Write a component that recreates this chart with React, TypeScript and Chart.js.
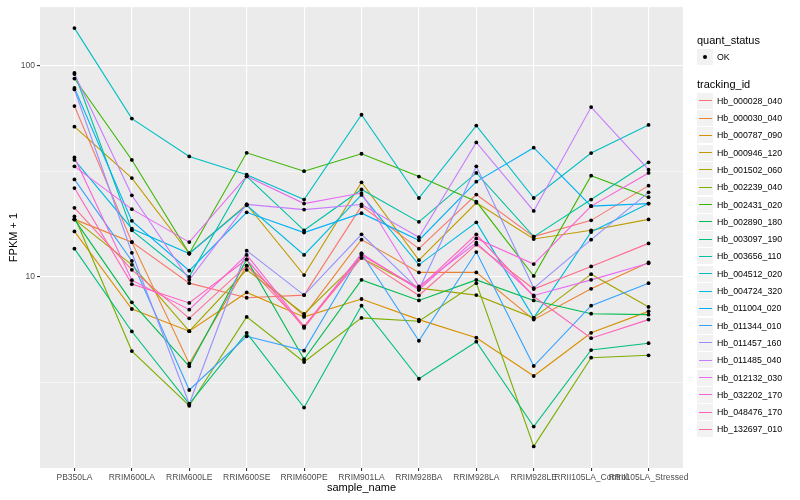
import React, { useEffect, useRef } from "react";
import { Chart, registerables } from "chart.js";
Chart.register(...registerables);

const categories = [
  "PB350LA", "RRIM600LA", "RRIM600LE", "RRIM600SE", "RRIM600PE", "RRIM901LA",
  "RRIM928BA", "RRIM928LA", "RRIM928LE", "RRII105LA_Control", "RRII105LA_Stressed",
];

const trackingIds = [
  "Hb_000028_040", "Hb_000030_040", "Hb_000787_090", "Hb_000946_120", "Hb_001502_060",
  "Hb_002239_040", "Hb_002431_020", "Hb_002890_180", "Hb_003097_190", "Hb_003656_110",
  "Hb_004512_020", "Hb_004724_320", "Hb_011004_020", "Hb_011344_010", "Hb_011457_160",
  "Hb_011485_040", "Hb_012132_030", "Hb_032202_170", "Hb_048476_170", "Hb_132697_010",
];

const seriesColors = [
  "#F8766D", "#EA8331", "#D89000", "#C09B00", "#A3A500", "#7CAE00", "#39B600", "#00BB4E",
  "#00BF7D", "#00C1A3", "#00BFC4", "#00BAE0", "#00B0F6", "#35A2FF", "#9590FF", "#C77CFF",
  "#E76BF3", "#FA62DB", "#FF62BC", "#FF6C91",
];

const hb000028_040 = [64.2, 14.6, 9.34, 7.97, 8.2, 21.6, 13.6, 24.5, 15.5, 18.5, 27.0];
const hb000030_040 = [18.7, 14.6, 3.89, 11.3, 6.56, 15.0, 10.5, 10.5, 6.28, 8.78, 11.7];
const hb000787_090 = [16.4, 7.05, 5.54, 8.44, 6.47, 7.86, 6.28, 5.16, 3.4, 5.44, 6.87];
const hb000946_120 = [51.3, 29.3, 12.9, 22.0, 10.2, 28.0, 12.0, 22.4, 15.1, 16.6, 18.7];
const hb001502_060 = [18.7, 11.4, 5.54, 10.8, 6.68, 12.3, 8.85, 8.2, 6.4, 10.3, 7.21];
const hb002239_040 = [19.3, 4.46, 2.46, 6.47, 3.96, 6.4, 6.17, 9.34, 1.58, 4.15, 4.26];
const hb002431_020 = [86.6, 35.7, 12.9, 38.6, 31.6, 38.2, 29.8, 22.7, 10.1, 30.1, 23.8];
const hb002890_180 = [18.7, 7.58, 3.78, 12.1, 4.08, 9.68, 7.74, 9.68, 7.74, 6.7, 6.63];
const hb003097_190 = [13.6, 5.52, 2.51, 5.44, 2.41, 7.31, 3.3, 4.94, 1.96, 4.51, 4.86];
const hb003656_110 = [92.0, 16.6, 10.0, 29.9, 16.6, 25.9, 18.2, 31.0, 15.5, 23.2, 34.8];
const hb004512_020 = [150, 56.0, 37.1, 30.4, 23.2, 58.4, 23.6, 51.9, 23.6, 38.5, 52.3];
const hb004724_320 = [35.7, 16.9, 12.9, 21.8, 12.7, 24.4, 11.4, 18.1, 6.4, 16.3, 22.2];
const hb011004_020 = [78.2, 18.4, 10.7, 20.2, 16.2, 20.0, 14.9, 28.2, 40.8, 21.6, 22.2];
const hb011344_010 = [28.9, 11.9, 2.92, 5.24, 4.48, 12.9, 4.99, 13.1, 3.79, 7.31, 9.34];
const hb011457_160 = [76.9, 13.0, 2.51, 13.3, 8.2, 15.9, 8.69, 33.3, 8.85, 15.0, 25.1];
const hb011485_040 = [91.0, 24.3, 9.68, 22.0, 20.8, 22.0, 15.4, 43.2, 20.5, 63.5, 32.1];
const hb012132_030 = [33.3, 20.9, 14.6, 29.9, 22.2, 24.9, 9.01, 14.5, 8.17, 9.68, 11.6];
const hb032202_170 = [36.7, 9.65, 7.0, 12.7, 5.82, 12.9, 8.69, 15.2, 11.5, 21.6, 31.0];
const hb048476_170 = [26.3, 9.24, 7.53, 12.1, 5.74, 12.7, 8.85, 15.9, 8.08, 5.13, 6.28];
const hb132697_010 = [21.2, 10.8, 6.37, 11.3, 5.84, 12.3, 8.17, 14.2, 8.76, 11.2, 14.4];

const seriesValues = [
  hb000028_040, hb000030_040, hb000787_090, hb000946_120, hb001502_060,
  hb002239_040, hb002431_020, hb002890_180, hb003097_190, hb003656_110,
  hb004512_020, hb004724_320, hb011004_020, hb011344_010, hb011457_160,
  hb011485_040, hb012132_030, hb032202_170, hb048476_170, hb132697_010,
];

const yMajorTicks = [10, 100];
const yMinorTicks = [3.1623, 31.623];
const quantStatus = ["OK"];

const FONT = "'Liberation Sans', Arial, Helvetica, sans-serif";

export default function App() {
  const canvasRef = useRef<HTMLCanvasElement | null>(null);

  useEffect(() => {
    document.body.style.margin = "0";
    const canvas = canvasRef.current;
    if (!canvas) return;

    const panelBg = {
      id: "panelBg",
      beforeDraw(chart: any) {
        const { ctx, chartArea } = chart;
        ctx.save();
        ctx.fillStyle = "#EBEBEB";
        ctx.fillRect(chartArea.left, chartArea.top, chartArea.right - chartArea.left, chartArea.bottom - chartArea.top);
        ctx.restore();
      },
    };

    const lineSets = seriesValues.map((vals, s) => ({
      type: "line" as const,
      label: trackingIds[s],
      data: vals.map((v, i) => ({ x: i, y: v })),
      borderColor: seriesColors[s],
      backgroundColor: seriesColors[s],
      borderWidth: 1.1,
      pointRadius: 0,
      tension: 0,
      fill: false,
      order: 100 - s,
    }));

    const pointData: { x: number; y: number }[] = [];
    seriesValues.forEach((vals) => vals.forEach((v, i) => pointData.push({ x: i, y: v })));

    const pointSet = {
      type: "line" as const,
      label: quantStatus[0],
      data: pointData,
      showLine: false,
      pointRadius: 1.9,
      pointBackgroundColor: "#000000",
      pointBorderWidth: 0,
      borderColor: "#000000",
      order: 0,
    };

    const allTicks = [...yMinorTicks, ...yMajorTicks].sort((a, b) => a - b);

    const chart = new Chart(canvas, {
      type: "line",
      data: { datasets: [...lineSets, pointSet] as any },
      plugins: [panelBg],
      options: {
        animation: false,
        responsive: false,
        layout: { padding: { left: 0, right: 117, top: 5, bottom: 0 } },
        plugins: { legend: { display: false }, tooltip: { enabled: false } },
        scales: {
          x: {
            type: "linear",
            min: -0.6,
            max: 10.6,
            afterBuildTicks: (scale: any) => {
              scale.ticks = categories.map((_, i) => ({ value: i }));
            },
            afterFit: (scale: any) => {
              scale.height = 32;
            },
            ticks: {
              autoSkip: false,
              maxRotation: 0,
              minRotation: 0,
              padding: 2,
              color: "#4D4D4D",
              font: { family: FONT, size: 8.5 },
              callback: (v: any) => categories[v as number] ?? "",
            },
            grid: {
              color: "#FFFFFF",
              lineWidth: 1.1,
              tickLength: 3,
              tickColor: "#333333",
              tickWidth: 1.1,
            },
            border: { display: false },
            title: {
              display: true,
              text: "sample_name",
              color: "#000000",
              font: { family: FONT, size: 11 },
              padding: { top: 0, bottom: 5 },
            },
          },
          y: {
            type: "logarithmic",
            min: 1.249,
            max: 188.5,
            afterBuildTicks: (scale: any) => {
              scale.ticks = allTicks.map((v) => ({ value: v }));
            },
            afterFit: (scale: any) => {
              scale.width = 40;
            },
            ticks: {
              padding: 2,
              color: "#4D4D4D",
              font: { family: FONT, size: 8.5 },
              callback: (v: any) => (yMajorTicks.includes(v as number) ? String(v) : ""),
            },
            grid: {
              color: "#FFFFFF",
              lineWidth: (ctx: any) => (yMajorTicks.includes(ctx.tick?.value) ? 1.1 : 0.55),
              tickLength: 3,
              tickColor: (ctx: any) => (yMajorTicks.includes(ctx.tick?.value) ? "#333333" : "rgba(0,0,0,0)"),
              tickWidth: 1.1,
            },
            border: { display: false },
            title: {
              display: true,
              text: "FPKM + 1",
              color: "#000000",
              font: { family: FONT, size: 11 },
              padding: { top: 7, bottom: 0 },
            },
          },
        },
      } as any,
    });

    return () => chart.destroy();
  }, []);

  const rowCenter = (i: number) => 100.7 + 17.3 * i;

  return (
    <div style={{ position: "relative", width: 800, height: 500, fontFamily: FONT }}>
      <canvas ref={canvasRef} width={800} height={500} style={{ position: "absolute", left: 0, top: 0 }} />
      <div style={{ position: "absolute", left: 697, top: 34, fontSize: 11, lineHeight: "13px", color: "#000" }}>
        quant_status
      </div>
      {quantStatus.map((q) => (
        <React.Fragment key={q}>
          <div style={{ position: "absolute", left: 697, top: 49, width: 16, height: 16, background: "#F2F2F2" }}>
            <div style={{ position: "absolute", left: 6, top: 6, width: 4, height: 4, borderRadius: 2, background: "#000" }} />
          </div>
          <div style={{ position: "absolute", left: 717, top: 51, fontSize: 8.8, lineHeight: "12px", color: "#000" }}>{q}</div>
        </React.Fragment>
      ))}
      <div style={{ position: "absolute", left: 697, top: 78, fontSize: 11, lineHeight: "13px", color: "#000" }}>
        tracking_id
      </div>
      {trackingIds.map((id, i) => (
        <React.Fragment key={id}>
          <div style={{ position: "absolute", left: 697, top: rowCenter(i) - 8, width: 16, height: 16, background: "#F2F2F2" }}>
            <div style={{ position: "absolute", left: 1.5, top: 7.5, width: 13, height: 1.1, background: seriesColors[i] }} />
          </div>
          <div style={{ position: "absolute", left: 717, top: rowCenter(i) - 6, fontSize: 8.8, lineHeight: "12px", color: "#000", whiteSpace: "nowrap" }}>
            {id}
          </div>
        </React.Fragment>
      ))}
    </div>
  );
}
